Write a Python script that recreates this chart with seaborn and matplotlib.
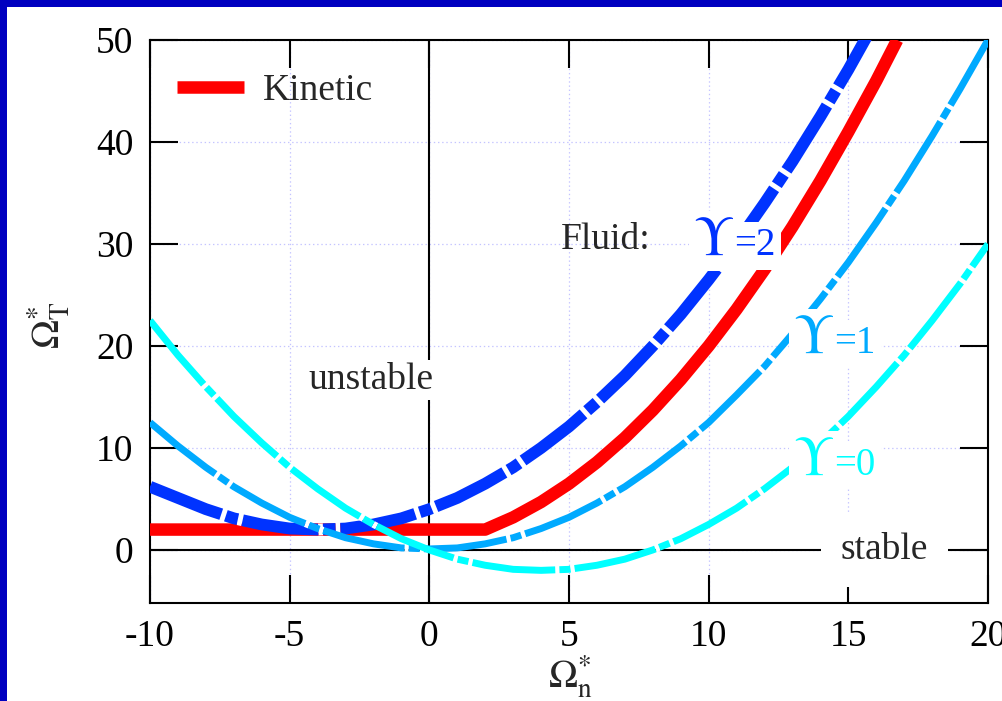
import matplotlib
matplotlib.use("Agg")
import matplotlib.pyplot as plt
import seaborn as sns
from matplotlib.patches import Rectangle

# ---------------- data ----------------
x_fluid = list(range(-10, 21))
ups0 = [22.5, 19.1, 16.0, 13.1, 10.5, 8.1, 6.0, 4.1, 2.5, 1.1, 0.0,
        -0.9, -1.5, -1.9, -2.0, -1.9, -1.5, -0.9, 0.0, 1.1, 2.5,
        4.1, 6.0, 8.1, 10.5, 13.1, 16.0, 19.1, 22.5, 26.1, 30.0]
ups1 = [12.5, 10.2, 8.1, 6.2, 4.6, 3.2, 2.1, 1.2, 0.6, 0.2, 0.1,
        0.2, 0.6, 1.2, 2.1, 3.2, 4.6, 6.2, 8.1, 10.2, 12.5,
        15.2, 18.0, 21.2, 24.6, 28.2, 32.1, 36.2, 40.6, 45.2, 50.0]
x_ups2 = list(range(-10, 17))
ups2 = [6.2, 5.1, 4.0, 3.1, 2.5, 2.1, 2.0, 2.1, 2.5, 3.1, 4.0,
        5.1, 6.5, 8.1, 10.0, 12.1, 14.5, 17.1, 20.0, 23.1, 26.5,
        30.1, 34.0, 38.1, 42.5, 47.1, 52.0]
kin_x = [-10, 2, 3, 4, 5, 6, 7, 8, 9, 10, 11, 12, 13, 14, 15, 16, 16.75]
kin_y = [2.0, 2.0, 3.2, 4.7, 6.5, 8.6, 11.0, 13.7, 16.7, 20.0, 23.6,
         27.5, 31.7, 36.2, 41.0, 46.0, 50.0]
xticks = [-10, -5, 0, 5, 10, 15, 20]
yticks = [0, 10, 20, 30, 40, 50]

# ---------------- style ----------------
sns.set_style("ticks")
plt.rcParams.update({
    "font.family": ["Liberation Serif", "DejaVu Serif"],
    "mathtext.fontset": "stix",
    "axes.unicode_minus": False,
    "lines.scale_dashes": False,
})

W, H = 1003, 701
fig = plt.figure(figsize=(W / 100, H / 100), dpi=100, facecolor="white")
ax = fig.add_axes([150 / W, 1 - 603 / H, (988 - 150) / W, (603 - 40) / H])
ax.set_facecolor("white")

# blue slide border (top and left)
fig.patches.append(Rectangle((0, 1 - 7 / H), 1, 7 / H, transform=fig.transFigure,
                             facecolor="#0000C0", edgecolor="none", zorder=10))
fig.patches.append(Rectangle((0, 0), 7 / W, 1, transform=fig.transFigure,
                             facecolor="#0000C0", edgecolor="none", zorder=10))

ax.grid(True, color="#C4C4FF", linestyle=(0, (1, 2)), linewidth=0.9)
ax.set_axisbelow(True)
ax.axhline(0, color="black", lw=1.5, zorder=1.5)
ax.axvline(0, color="black", lw=1.5, zorder=1.5)

# curves
sns.lineplot(x=kin_x, y=kin_y, ax=ax, color="#FF0000", linewidth=9,
             label="Kinetic", sort=False, errorbar=None, zorder=3)
ax.lines[-1].set_solid_capstyle("butt")

specs = [
    (x_ups2, ups2, "#0033FF", 8.5, (0, (55, 3.5, 9, 3.5)), 4),
    (x_fluid, ups1, "#00AAFF", 5.0, (0, (60, 3, 8, 3)), 5),
    (x_fluid, ups0, "#00FFFF", 5.0, (0, (60, 3, 8, 3)), 6),
]
for xs, ys, col, lw, ls, z in specs:
    sns.lineplot(x=xs, y=ys, ax=ax, color=col, linewidth=lw, sort=False,
                 errorbar=None, legend=False, zorder=z)
    ln = ax.lines[-1]
    ln.set_linestyle(ls)
    ln.set_gapcolor("white")
    ln.set_dash_capstyle("butt")

ax.set_xlim(-10, 20)
ax.set_ylim(-5.2, 50)
ax.set_xticks(xticks)
ax.set_yticks(yticks)
ax.set_xticklabels([str(v) for v in xticks])
ax.set_yticklabels([str(v) for v in yticks])
ax.tick_params(direction="in", length=20, width=1.5, top=True, right=True,
               labelsize=27, pad=12, colors="black")
for s in ax.spines.values():
    s.set_linewidth(1.5)
    s.set_color("black")
ax.set_xlabel("")
ax.set_ylabel("")

leg = ax.legend(loc="upper left", bbox_to_anchor=(0.032, 0.941), frameon=False,
                fontsize=27, handlelength=1.8, handletextpad=0.5,
                borderaxespad=0, borderpad=0)

# axis labels
fig.text(49 / W, 1 - 325 / H, r"$\Omega^{*}_{\mathrm{T}}$", rotation=90,
         ha="center", va="center", fontsize=28)
fig.text(570 / W, 1 - 688 / H, r"$\Omega^{*}_{\mathrm{n}}$",
         ha="center", va="baseline", fontsize=28)

# annotations
white = dict(facecolor="white", edgecolor="none", pad=2)
ax.text(6.3, 30.4, "Fluid:", fontsize=27, ha="center", va="center", zorder=8)
ax.text(-2.08, 16.7, "unstable", fontsize=27, ha="center", va="center",
        zorder=8, bbox=white)
ax.text(16.3, 0, "stable", fontsize=27, ha="center", va="center", zorder=8,
        bbox=dict(facecolor="white", edgecolor="none", pad=14))

ups_labels = [("=2", 10.9, 28.9, "#0033FF"),
              ("=1", 14.48, 19.3, "#00AAFF"),
              ("=0", 14.48, 7.35, "#00FFFF")]
for txt, xx, yy, col in ups_labels:
    ax.text(xx, yy, r"$\Upsilon$", fontsize=40, color=col, ha="right",
            va="baseline", zorder=8,
            bbox=dict(facecolor="white", edgecolor="none", pad=3))
    ax.text(xx, yy, txt, fontsize=28, color=col, ha="left", va="baseline",
            zorder=8, bbox=dict(facecolor="white", edgecolor="none", pad=4))

fig.savefig("out.png", dpi=100, facecolor="white")
